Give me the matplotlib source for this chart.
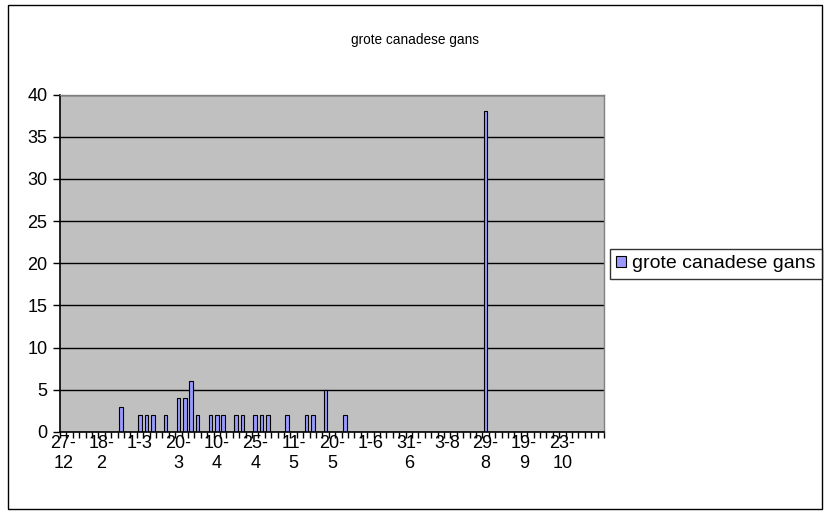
import numpy as np
import matplotlib
matplotlib.use("Agg")
import matplotlib.pyplot as plt
from matplotlib.patches import Rectangle

plt.rcParams['font.family'] = ['Liberation Sans', 'DejaVu Sans']

# categories on the x axis (observation dates, only every 6th is labelled)
n_cat = 85
label_pos = [0, 6, 12, 18, 24, 30, 36, 42, 48, 54, 60, 66, 72, 78]
labels = ["27-\n12", "18-\n2", "1-3", "20-\n3", "10-\n4", "25-\n4", "11-\n5",
          "20-\n5", "1-6", "31-\n6", "3-8", "29-\n8", "19-\n9", "23-\n10"]

# counts per category (categories without a bar are empty)
bar_pos = [9, 12, 13, 14, 16, 18, 19, 20, 21, 23, 24, 25, 27, 28, 30, 31, 32,
           35, 38, 39, 41, 44, 66]
bar_vals = [3, 2, 2, 2, 2, 4, 4, 6, 2, 2, 2, 2, 2, 2, 2, 2, 2,
            2, 2, 2, 5, 2, 38]
series = "grote canadese gans"

W, H = 830, 515
fig = plt.figure(figsize=(W / 100, H / 100), dpi=100)
ax = fig.add_axes([60 / W, 1 - 432 / H, (604 - 60) / W, (432 - 94.5) / H])

ax.set_facecolor('#c0c0c0')
ax.set_axisbelow(True)
ax.yaxis.grid(True, color='black', linewidth=1)

bars = ax.bar(bar_pos, bar_vals, width=0.55, color='#9999ff',
              edgecolor='black', linewidth=0.8, label=series)

ax.set_xlim(-0.5, n_cat - 0.5)
ax.set_ylim(0, 40)
ax.set_yticks(np.arange(0, 41, 5))

# tick marks on category boundaries, labels at category centres
ax.set_xticks(np.arange(-0.5, n_cat, 1.0))
ax.set_xticklabels([])
ax.tick_params(axis='x', which='major', direction='out', length=4, width=1)
ax.set_xticks(label_pos, minor=True)
ax.set_xticklabels(labels, minor=True, fontsize=13, linespacing=1.25, va='top')
ax.tick_params(axis='x', which='minor', length=0, pad=2)
ax.tick_params(axis='y', direction='out', length=5, width=1, labelsize=13, pad=4)

for s in ['left', 'bottom']:
    ax.spines[s].set_color('black')
    ax.spines[s].set_linewidth(1.2)
for s in ['top', 'right']:
    ax.spines[s].set_color('#808080')
    ax.spines[s].set_linewidth(1)

fig.text(415 / W, 1 - 40 / H, series, ha='center', va='center', fontsize=9.8)

leg = fig.legend(handles=[bars], labels=[series], loc='center left',
                 bbox_to_anchor=(610 / W, 1 - 264 / H), fontsize=14,
                 frameon=True, fancybox=False, edgecolor='black',
                 handlelength=0.5, handleheight=0.5, handletextpad=0.3,
                 borderpad=0.32, borderaxespad=0)
leg.get_frame().set_linewidth(1)

fig.patches.append(Rectangle((8 / W, 1 - 509 / H), (822 - 8) / W, (509 - 5) / H,
                             transform=fig.transFigure, fill=False,
                             edgecolor='black', linewidth=1))

fig.savefig("out.png", dpi=100, facecolor='white')
